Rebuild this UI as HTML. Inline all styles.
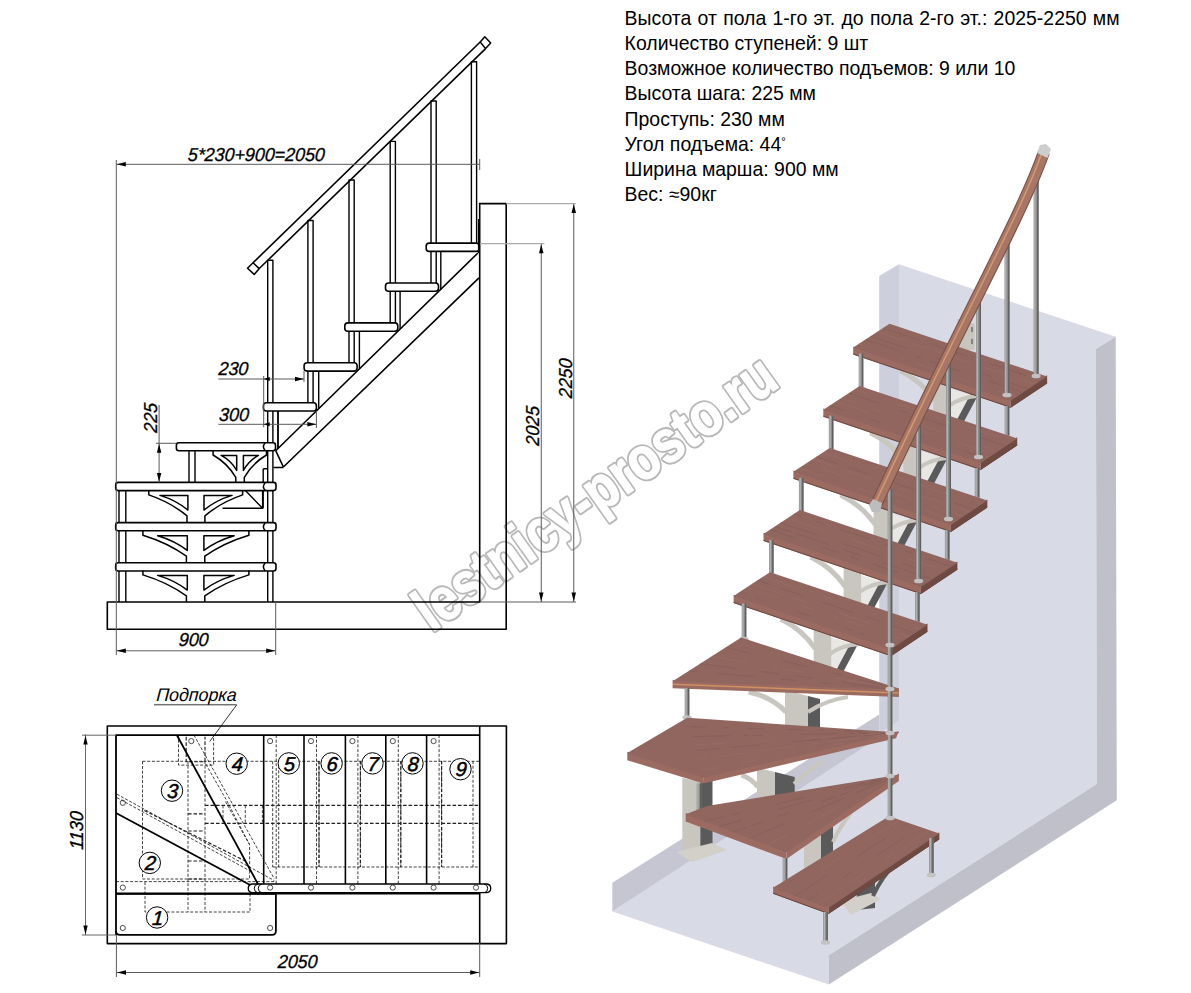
<!DOCTYPE html><html><head><meta charset="utf-8"><style>html,body{margin:0;padding:0;background:#fff;width:1191px;height:993px;overflow:hidden}svg{display:block}.it{font-family:"Liberation Sans",sans-serif;font-style:italic}.rg{font-family:"Liberation Sans",sans-serif}</style></head><body>
<svg width="1191" height="993" viewBox="0 0 1191 993">
<rect width="1191" height="993" fill="#fff"/>
<text x="624.6" y="24.8" font-size="19.45" class="rg" fill="#000" word-spacing="0.88">Высота от пола 1-го эт. до пола 2-го эт.: 2025-2250 мм</text>
<text x="624.6" y="50.0" font-size="19.45" class="rg" fill="#000">Количество ступеней: 9 шт</text>
<text x="624.6" y="75.2" font-size="19.45" class="rg" fill="#000">Возможное количество подъемов: 9 или 10</text>
<text x="624.6" y="100.4" font-size="19.45" class="rg" fill="#000">Высота шага: 225 мм</text>
<text x="624.6" y="125.6" font-size="19.45" class="rg" fill="#000">Проступь: 230 мм</text>
<text x="624.6" y="150.8" font-size="19.45" class="rg" fill="#000">Угол подъема: 44<tspan font-size="11" dy="-6">°</tspan></text>
<text x="624.6" y="176.0" font-size="19.45" class="rg" fill="#000">Ширина марша: 900 мм</text>
<text x="624.6" y="201.2" font-size="19.45" class="rg" fill="#000">Вес: ≈90кг</text>
<text font-family="Liberation Sans" font-weight="bold" font-size="60" fill="#b8b8b8" stroke="#b8b8b8" stroke-width="5" stroke-linejoin="round" transform="translate(431.8,632.8) rotate(-35.3) scale(0.845,1.005)">lestnicy-prosto.ru</text>
<text font-family="Liberation Sans" font-weight="bold" font-size="60" fill="#fff" stroke="#fff" stroke-width="1.1" stroke-linejoin="round" transform="translate(431.8,632.8) rotate(-35.3) scale(0.845,1.005)">lestnicy-prosto.ru</text>
<g stroke="none">
<polygon points="879.2,276.0 899.0,264.2 899.0,722.0 879.2,734.0" fill="#cdd0dc" stroke="none" stroke-width="0" />
<polygon points="612.4,911.6 879.2,736.0 899.0,720.0 1096.8,784.1 828.8,955.2 828.8,984.6" fill="#d8dae6" stroke="none" stroke-width="0" />
<polygon points="899.0,264.2 1115.7,336.8 1095.9,349.1 1096.8,786.0 899.0,722.0" fill="#d8dae6" stroke="none" stroke-width="0" />
<polygon points="612.4,882.7 879.2,714.6 879.2,737.0 612.4,911.6" fill="#c5c6d1" stroke="none" stroke-width="0" />
<polygon points="1095.9,349.1 1115.7,336.8 1116.8,800.2 828.8,984.6 828.8,955.2 1096.8,784.1" fill="#bfc0ca" stroke="none" stroke-width="0" />
<polygon points="950.3,388.7 969.3,394.7 963.3,418.7 950.3,418.7" fill="#e9e7e3" stroke="none" stroke-width="0" />
<polygon points="971.3,392.7 980.3,390.7 963.3,422.7 954.3,424.7" fill="#5a5a5a" stroke="none" stroke-width="0" />
<polygon points="933.3,378.7 950.8,384.7 950.8,432.7 933.3,432.7" fill="#c9c6c0" stroke="none" stroke-width="0" />
<path d="M900.3,370.7 Q921.3,380.7 935.3,400.7" fill="none" stroke="#c9c6c0" stroke-width="5" stroke-linecap="butt"/>
<path d="M949.3,405.7 Q961.3,396.7 979.3,395.7" fill="none" stroke="#c9c6c0" stroke-width="4" stroke-linecap="butt"/>
<polygon points="920.4,450.8 939.4,456.8 933.4,480.8 920.4,480.8" fill="#e9e7e3" stroke="none" stroke-width="0" />
<polygon points="941.4,454.8 950.4,452.8 933.4,484.8 924.4,486.8" fill="#5a5a5a" stroke="none" stroke-width="0" />
<polygon points="903.4,440.8 920.9,446.8 920.9,494.8 903.4,494.8" fill="#c9c6c0" stroke="none" stroke-width="0" />
<path d="M870.4,432.8 Q891.4,442.8 905.4,462.8" fill="none" stroke="#c9c6c0" stroke-width="5" stroke-linecap="butt"/>
<path d="M919.4,467.8 Q931.4,458.8 949.4,457.8" fill="none" stroke="#c9c6c0" stroke-width="4" stroke-linecap="butt"/>
<polygon points="890.5,512.9 909.5,518.9 903.5,542.9 890.5,542.9" fill="#e9e7e3" stroke="none" stroke-width="0" />
<polygon points="911.5,516.9 920.5,514.9 903.5,546.9 894.5,548.9" fill="#5a5a5a" stroke="none" stroke-width="0" />
<polygon points="873.5,502.9 891.0,508.9 891.0,556.9 873.5,556.9" fill="#c9c6c0" stroke="none" stroke-width="0" />
<path d="M840.5,494.9 Q861.5,504.9 875.5,524.9" fill="none" stroke="#c9c6c0" stroke-width="5" stroke-linecap="butt"/>
<path d="M889.5,529.9 Q901.5,520.9 919.5,519.9" fill="none" stroke="#c9c6c0" stroke-width="4" stroke-linecap="butt"/>
<polygon points="860.6,575.0 879.6,581.0 873.6,605.0 860.6,605.0" fill="#e9e7e3" stroke="none" stroke-width="0" />
<polygon points="881.6,579.0 890.6,577.0 873.6,609.0 864.6,611.0" fill="#5a5a5a" stroke="none" stroke-width="0" />
<polygon points="843.6,565.0 861.1,571.0 861.1,619.0 843.6,619.0" fill="#c9c6c0" stroke="none" stroke-width="0" />
<path d="M810.5999999999999,557.0 Q831.5999999999999,567.0 845.5999999999999,587.0" fill="none" stroke="#c9c6c0" stroke-width="5" stroke-linecap="butt"/>
<path d="M859.5999999999999,592.0 Q871.5999999999999,583.0 889.5999999999999,582.0" fill="none" stroke="#c9c6c0" stroke-width="4" stroke-linecap="butt"/>
<polygon points="830.7,637.1 849.7,643.1 843.7,667.1 830.7,667.1" fill="#e9e7e3" stroke="none" stroke-width="0" />
<polygon points="851.7,641.1 860.7,639.1 843.7,671.1 834.7,673.1" fill="#5a5a5a" stroke="none" stroke-width="0" />
<polygon points="813.7,627.1 831.2,633.1 831.2,681.1 813.7,681.1" fill="#c9c6c0" stroke="none" stroke-width="0" />
<path d="M780.6999999999999,619.1 Q801.6999999999999,629.1 815.6999999999999,649.1" fill="none" stroke="#c9c6c0" stroke-width="5" stroke-linecap="butt"/>
<path d="M829.6999999999999,654.1 Q841.6999999999999,645.1 859.6999999999999,644.1" fill="none" stroke="#c9c6c0" stroke-width="4" stroke-linecap="butt"/>
<polygon points="785.0,690.0 808.0,696.0 808.0,735.0 785.0,735.0" fill="#c9c6c0" stroke="none" stroke-width="0" />
<polygon points="808.0,696.0 820.0,699.0 820.0,735.0 808.0,735.0" fill="#5a5a5a" stroke="none" stroke-width="0" />
<path d="M748.7,692 Q772,697 786,712" fill="none" stroke="#c9c6c0" stroke-width="5" stroke-linecap="butt"/>
<path d="M808,712 Q826,700 848,697" fill="none" stroke="#c9c6c0" stroke-width="4" stroke-linecap="butt"/>
<polygon points="757.0,768.0 775.0,772.0 775.0,805.0 757.0,805.0" fill="#c9c6c0" stroke="none" stroke-width="0" />
<polygon points="775.0,772.0 794.7,777.0 794.7,805.0 775.0,805.0" fill="#5a5a5a" stroke="none" stroke-width="0" />
<path d="M741.5,775 Q752,779 758,787" fill="none" stroke="#c9c6c0" stroke-width="5" stroke-linecap="butt"/>
<path d="M794,784 Q808,770 824,761" fill="none" stroke="#c9c6c0" stroke-width="4" stroke-linecap="butt"/>
<polygon points="682.3,778.0 700.4,782.0 700.4,855.0 682.3,852.0" fill="#c9c6c0" stroke="none" stroke-width="0" />
<polygon points="700.4,782.0 712.5,780.0 712.5,851.0 700.4,855.0" fill="#5a5a5a" stroke="none" stroke-width="0" />
<polygon points="676.0,852.0 712.0,843.0 727.0,850.0 692.0,862.0" fill="#d3d0ca" stroke="none" stroke-width="0" />
<polygon points="804.0,820.0 821.0,824.0 821.0,872.0 804.0,872.0" fill="#c9c6c0" stroke="none" stroke-width="0" />
<polygon points="821.0,824.0 833.0,826.0 833.0,872.0 821.0,872.0" fill="#5a5a5a" stroke="none" stroke-width="0" />
<path d="M833,842 Q840,826 851,813" fill="none" stroke="#c9c6c0" stroke-width="4" stroke-linecap="butt"/>
<polygon points="856.7,880.0 875.0,876.0 875.0,908.0 856.7,910.0" fill="#5a5a5a" stroke="none" stroke-width="0" />
<polygon points="840.6,901.0 871.0,893.0 881.0,899.0 851.0,915.0" fill="#d3d0ca" stroke="none" stroke-width="0" />
<path d="M873,896 Q882,876 897,862" fill="none" stroke="#5a5a5a" stroke-width="4" stroke-linecap="butt"/>
</g>
<polygon points="957.4,319.0 974.7,324.0 974.7,350.0 957.4,350.0" fill="#c8c5bf" stroke="none" stroke-width="0" />
<path d="M972,327 V332 M972,339 V344" stroke="#333" stroke-width="0.9"/>
<polygon points="853.2,346.4 1010.6,399.6 1010.6,407.8 853.2,354.6" fill="#9b6b62" stroke="none" stroke-width="0" />
<polygon points="1010.6,399.6 1047.1,375.2 1047.1,383.4 1010.6,407.8" fill="#6e4a43" stroke="none" stroke-width="0" />
<polygon points="889.6,323.8 1047.1,376.4 1010.6,400.8 853.2,347.6" fill="#90665f" stroke="none" stroke-width="0" />
<path d="M858.8,344.0 L1016.2,397.1" stroke="#a0746c" stroke-width="0.9" stroke-opacity="0.45" stroke-dasharray="13,29,7,8,38,10" fill="none"/>
<path d="M865.6,339.5 L1023.0,392.5" stroke="#7c5650" stroke-width="0.9" stroke-opacity="0.45" stroke-dasharray="36,17,6,9,31,30" fill="none"/>
<path d="M870.6,336.2 L1028.1,389.1" stroke="#7c5650" stroke-width="0.9" stroke-opacity="0.45" stroke-dasharray="39,31,7,40,11,18" fill="none"/>
<path d="M877.7,331.6 L1035.2,384.4" stroke="#a0746c" stroke-width="0.9" stroke-opacity="0.45" stroke-dasharray="29,7,18,6,39,12" fill="none"/>
<path d="M883.3,327.9 L1040.8,380.6" stroke="#7c5650" stroke-width="0.9" stroke-opacity="0.45" stroke-dasharray="38,11,40,23,39,15" fill="none"/>
<path d="M853.2,354.1 L1010.6,407.3 L1047.1,382.9" fill="none" stroke="#6d4740" stroke-width="1"/>
<rect x="858.7" y="353.6" width="4.6" height="36.0" fill="#8c8c8c"/>
<rect x="859.3" y="353.6" width="1.3" height="36.0" fill="#b5b5b5"/>
<rect x="861.9" y="353.6" width="1.4" height="36.0" fill="#5f5f5f"/>
<ellipse cx="861.0" cy="389.1" rx="4.6" ry="2.3" fill="#c2c2c2"/>
<rect x="1004.7" y="406.0" width="4.6" height="32.0" fill="#8c8c8c"/>
<rect x="1005.3" y="406.0" width="1.3" height="32.0" fill="#b5b5b5"/>
<rect x="1007.9" y="406.0" width="1.4" height="32.0" fill="#5f5f5f"/>
<ellipse cx="1007.0" cy="437.5" rx="4.6" ry="2.3" fill="#c2c2c2"/>
<polygon points="823.3,408.5 980.7,461.7 980.7,469.9 823.3,416.7" fill="#9b6b62" stroke="none" stroke-width="0" />
<polygon points="980.7,461.7 1017.2,437.3 1017.2,445.5 980.7,469.9" fill="#6e4a43" stroke="none" stroke-width="0" />
<polygon points="859.7,385.9 1017.2,438.5 980.7,462.9 823.3,409.7" fill="#90665f" stroke="none" stroke-width="0" />
<path d="M829.6,405.6 L987.0,458.7" stroke="#7c5650" stroke-width="0.9" stroke-opacity="0.45" stroke-dasharray="16,27,10,39,8,40" fill="none"/>
<path d="M835.8,401.5 L993.2,454.5" stroke="#a0746c" stroke-width="0.9" stroke-opacity="0.45" stroke-dasharray="35,38,31,24,33,33" fill="none"/>
<path d="M840.9,398.2 L998.4,451.1" stroke="#a0746c" stroke-width="0.9" stroke-opacity="0.45" stroke-dasharray="15,19,9,40,23,37" fill="none"/>
<path d="M848.7,393.1 L1006.1,445.9" stroke="#7c5650" stroke-width="0.9" stroke-opacity="0.45" stroke-dasharray="32,22,8,11,36,30" fill="none"/>
<path d="M854.4,389.4 L1011.9,442.1" stroke="#a0746c" stroke-width="0.9" stroke-opacity="0.45" stroke-dasharray="13,35,30,6,8,39" fill="none"/>
<path d="M823.3,416.2 L980.7,469.4 L1017.2,445.0" fill="none" stroke="#6d4740" stroke-width="1"/>
<rect x="828.8" y="415.7" width="4.6" height="36.0" fill="#8c8c8c"/>
<rect x="829.4" y="415.7" width="1.3" height="36.0" fill="#b5b5b5"/>
<rect x="832.0" y="415.7" width="1.4" height="36.0" fill="#5f5f5f"/>
<ellipse cx="831.1" cy="451.2" rx="4.6" ry="2.3" fill="#c2c2c2"/>
<rect x="974.8" y="468.1" width="4.6" height="32.0" fill="#8c8c8c"/>
<rect x="975.4" y="468.1" width="1.3" height="32.0" fill="#b5b5b5"/>
<rect x="978.0" y="468.1" width="1.4" height="32.0" fill="#5f5f5f"/>
<ellipse cx="977.1" cy="499.6" rx="4.6" ry="2.3" fill="#c2c2c2"/>
<polygon points="793.4,470.6 950.8,523.8 950.8,532.0 793.4,478.8" fill="#9b6b62" stroke="none" stroke-width="0" />
<polygon points="950.8,523.8 987.3,499.4 987.3,507.6 950.8,532.0" fill="#6e4a43" stroke="none" stroke-width="0" />
<polygon points="829.8,448.0 987.3,500.6 950.8,525.0 793.4,471.8" fill="#90665f" stroke="none" stroke-width="0" />
<path d="M799.0,468.1 L956.4,521.2" stroke="#a0746c" stroke-width="0.9" stroke-opacity="0.45" stroke-dasharray="26,35,33,8,9,21" fill="none"/>
<path d="M806.1,463.5 L963.5,516.5" stroke="#a0746c" stroke-width="0.9" stroke-opacity="0.45" stroke-dasharray="8,7,23,40,32,22" fill="none"/>
<path d="M812.7,459.2 L970.2,512.0" stroke="#a0746c" stroke-width="0.9" stroke-opacity="0.45" stroke-dasharray="26,5,33,26,14,11" fill="none"/>
<path d="M816.4,456.8 L973.8,509.6" stroke="#7c5650" stroke-width="0.9" stroke-opacity="0.45" stroke-dasharray="22,12,19,29,29,35" fill="none"/>
<path d="M822.8,452.6 L980.2,505.3" stroke="#a0746c" stroke-width="0.9" stroke-opacity="0.45" stroke-dasharray="29,39,21,12,31,39" fill="none"/>
<path d="M793.4,478.3 L950.8,531.5 L987.3,507.1" fill="none" stroke="#6d4740" stroke-width="1"/>
<rect x="798.9" y="477.8" width="4.6" height="36.0" fill="#8c8c8c"/>
<rect x="799.5" y="477.8" width="1.3" height="36.0" fill="#b5b5b5"/>
<rect x="802.1" y="477.8" width="1.4" height="36.0" fill="#5f5f5f"/>
<ellipse cx="801.2" cy="513.3" rx="4.6" ry="2.3" fill="#c2c2c2"/>
<rect x="944.9" y="530.2" width="4.6" height="32.0" fill="#8c8c8c"/>
<rect x="945.5" y="530.2" width="1.3" height="32.0" fill="#b5b5b5"/>
<rect x="948.1" y="530.2" width="1.4" height="32.0" fill="#5f5f5f"/>
<ellipse cx="947.2" cy="561.7" rx="4.6" ry="2.3" fill="#c2c2c2"/>
<polygon points="763.5,532.7 920.9,585.9 920.9,594.1 763.5,540.9" fill="#9b6b62" stroke="none" stroke-width="0" />
<polygon points="920.9,585.9 957.4,561.5 957.4,569.7 920.9,594.1" fill="#6e4a43" stroke="none" stroke-width="0" />
<polygon points="799.9,510.1 957.4,562.7 920.9,587.1 763.5,533.9" fill="#90665f" stroke="none" stroke-width="0" />
<path d="M770.2,529.5 L927.6,582.6" stroke="#7c5650" stroke-width="0.9" stroke-opacity="0.45" stroke-dasharray="26,28,18,13,9,15" fill="none"/>
<path d="M774.9,526.5 L932.3,579.5" stroke="#7c5650" stroke-width="0.9" stroke-opacity="0.45" stroke-dasharray="18,4,35,15,20,22" fill="none"/>
<path d="M780.7,522.7 L938.1,575.6" stroke="#7c5650" stroke-width="0.9" stroke-opacity="0.45" stroke-dasharray="38,27,40,24,12,36" fill="none"/>
<path d="M787.6,518.1 L945.1,570.9" stroke="#a0746c" stroke-width="0.9" stroke-opacity="0.45" stroke-dasharray="39,29,29,29,29,10" fill="none"/>
<path d="M794.2,513.8 L951.7,566.5" stroke="#7c5650" stroke-width="0.9" stroke-opacity="0.45" stroke-dasharray="7,16,8,17,32,14" fill="none"/>
<path d="M763.5,540.4 L920.9,593.6 L957.4,569.2" fill="none" stroke="#6d4740" stroke-width="1"/>
<rect x="769.0" y="539.9" width="4.6" height="36.0" fill="#8c8c8c"/>
<rect x="769.6" y="539.9" width="1.3" height="36.0" fill="#b5b5b5"/>
<rect x="772.2" y="539.9" width="1.4" height="36.0" fill="#5f5f5f"/>
<ellipse cx="771.3" cy="575.4" rx="4.6" ry="2.3" fill="#c2c2c2"/>
<rect x="915.0" y="592.3" width="4.6" height="32.0" fill="#8c8c8c"/>
<rect x="915.6" y="592.3" width="1.3" height="32.0" fill="#b5b5b5"/>
<rect x="918.2" y="592.3" width="1.4" height="32.0" fill="#5f5f5f"/>
<ellipse cx="917.3" cy="623.8" rx="4.6" ry="2.3" fill="#c2c2c2"/>
<polygon points="733.6,594.8 891.0,648.0 891.0,656.2 733.6,603.0" fill="#9b6b62" stroke="none" stroke-width="0" />
<polygon points="891.0,648.0 927.5,623.6 927.5,631.8 891.0,656.2" fill="#6e4a43" stroke="none" stroke-width="0" />
<polygon points="770.0,572.2 927.5,624.8 891.0,649.2 733.6,596.0" fill="#90665f" stroke="none" stroke-width="0" />
<path d="M739.2,592.3 L896.6,645.4" stroke="#7c5650" stroke-width="0.9" stroke-opacity="0.45" stroke-dasharray="7,10,4,40,13,38" fill="none"/>
<path d="M747.0,587.2 L904.5,640.2" stroke="#a0746c" stroke-width="0.9" stroke-opacity="0.45" stroke-dasharray="5,8,17,28,13,20" fill="none"/>
<path d="M752.1,583.9 L909.5,636.8" stroke="#a0746c" stroke-width="0.9" stroke-opacity="0.45" stroke-dasharray="34,11,11,35,33,34" fill="none"/>
<path d="M757.3,580.5 L914.8,633.3" stroke="#7c5650" stroke-width="0.9" stroke-opacity="0.45" stroke-dasharray="13,10,25,20,34,14" fill="none"/>
<path d="M763.1,576.7 L920.6,629.4" stroke="#a0746c" stroke-width="0.9" stroke-opacity="0.45" stroke-dasharray="37,27,13,38,5,37" fill="none"/>
<path d="M733.6,602.5 L891.0,655.7 L927.5,631.3" fill="none" stroke="#6d4740" stroke-width="1"/>
<rect x="741.7" y="603.5" width="4.6" height="36.5" fill="#8c8c8c"/>
<rect x="742.3" y="603.5" width="1.3" height="36.5" fill="#b5b5b5"/>
<rect x="744.9" y="603.5" width="1.4" height="36.5" fill="#5f5f5f"/>
<ellipse cx="744.0" cy="639.0" rx="4.6" ry="2.3" fill="#c2c2c2"/>
<polygon points="672.6,680.0 898.9,688.8 898.9,697.0 672.6,688.3" fill="#9b6b62" stroke="none" stroke-width="0" />
<polygon points="741.2,637.5 898.9,688.6 898.9,690.1 672.6,681.3" fill="#90665f" stroke="none" stroke-width="0" />
<path d="M688.9,670.9 L898.9,689.7" stroke="#7c5650" stroke-width="0.9" stroke-opacity="0.45" stroke-dasharray="9,20,37,27,14,26" fill="none"/>
<path d="M700.2,663.7 L898.9,689.4" stroke="#7c5650" stroke-width="0.9" stroke-opacity="0.45" stroke-dasharray="36,25,18,16,19,29" fill="none"/>
<path d="M712.1,656.1 L898.9,689.2" stroke="#a0746c" stroke-width="0.9" stroke-opacity="0.45" stroke-dasharray="35,26,5,5,21,34" fill="none"/>
<path d="M725.8,647.3 L898.9,688.9" stroke="#7c5650" stroke-width="0.9" stroke-opacity="0.45" stroke-dasharray="26,32,26,27,9,18" fill="none"/>
<path d="M673,684.3 L898,693" stroke="#d09062" stroke-width="1.4" fill="none"/>
<rect x="684.7" y="688.0" width="4.6" height="30.0" fill="#8c8c8c"/>
<rect x="685.3" y="688.0" width="1.3" height="30.0" fill="#b5b5b5"/>
<rect x="687.9" y="688.0" width="1.4" height="30.0" fill="#5f5f5f"/>
<ellipse cx="687.0" cy="717.5" rx="4.6" ry="2.3" fill="#c2c2c2"/>
<polygon points="627.3,751.7 703.2,776.5 703.2,783.5 627.3,760.2" fill="#9b6b62" stroke="none" stroke-width="0" />
<polygon points="703.2,776.5 898.9,731.2 896.0,738.3 703.2,783.5" fill="#9b6b62" stroke="none" stroke-width="0" />
<polygon points="687.2,717.8 898.9,732.4 703.2,777.7 627.3,752.9" fill="#90665f" stroke="none" stroke-width="0" />
<path d="M701.3,770.5 L898.9,732.4" stroke="#a0746c" stroke-width="0.9" stroke-opacity="0.45" stroke-dasharray="16,25,17,34,4,34" fill="none"/>
<path d="M698.2,759.1 L898.9,732.4" stroke="#a0746c" stroke-width="0.9" stroke-opacity="0.45" stroke-dasharray="9,11,28,16,34,15" fill="none"/>
<path d="M696.0,750.6 L898.9,732.4" stroke="#7c5650" stroke-width="0.9" stroke-opacity="0.45" stroke-dasharray="25,9,29,33,29,9" fill="none"/>
<path d="M694.5,745.1 L898.9,732.4" stroke="#a0746c" stroke-width="0.9" stroke-opacity="0.45" stroke-dasharray="12,5,13,33,13,34" fill="none"/>
<path d="M692.2,736.6 L898.9,732.4" stroke="#7c5650" stroke-width="0.9" stroke-opacity="0.45" stroke-dasharray="39,12,5,4,10,37" fill="none"/>
<path d="M689.6,726.7 L898.9,732.4" stroke="#7c5650" stroke-width="0.9" stroke-opacity="0.45" stroke-dasharray="16,17,5,20,17,22" fill="none"/>
<rect x="696.7" y="783.5" width="4.6" height="30.5" fill="#8c8c8c"/>
<rect x="697.3" y="783.5" width="1.3" height="30.5" fill="#b5b5b5"/>
<rect x="699.9" y="783.5" width="1.4" height="30.5" fill="#5f5f5f"/>
<ellipse cx="699.0" cy="813.5" rx="4.6" ry="2.3" fill="#c2c2c2"/>
<polygon points="685.7,813.0 786.5,851.0 786.5,859.0 685.7,821.5" fill="#9b6b62" stroke="none" stroke-width="0" />
<polygon points="786.5,851.0 898.9,773.6 898.9,781.0 786.5,859.0" fill="#9b6b62" stroke="none" stroke-width="0" />
<polygon points="707.0,806.0 898.9,774.8 786.5,852.2 685.7,814.2" fill="#90665f" stroke="none" stroke-width="0" />
<path d="M767.6,845.1 L898.9,774.8" stroke="#a0746c" stroke-width="0.9" stroke-opacity="0.45" stroke-dasharray="24,20,38,30,12,7" fill="none"/>
<path d="M749.7,838.3 L898.9,774.8" stroke="#7c5650" stroke-width="0.9" stroke-opacity="0.45" stroke-dasharray="37,30,36,12,38,13" fill="none"/>
<path d="M733.1,832.1 L898.9,774.8" stroke="#7c5650" stroke-width="0.9" stroke-opacity="0.45" stroke-dasharray="15,4,13,15,13,34" fill="none"/>
<path d="M718.8,826.7 L898.9,774.8" stroke="#7c5650" stroke-width="0.9" stroke-opacity="0.45" stroke-dasharray="24,37,37,39,34,10" fill="none"/>
<path d="M704.5,821.3 L898.9,774.8" stroke="#7c5650" stroke-width="0.9" stroke-opacity="0.45" stroke-dasharray="21,6,10,36,32,39" fill="none"/>
<rect x="782.7" y="858.0" width="4.6" height="28.0" fill="#8c8c8c"/>
<rect x="783.3" y="858.0" width="1.3" height="28.0" fill="#b5b5b5"/>
<rect x="785.9" y="858.0" width="1.4" height="28.0" fill="#5f5f5f"/>
<ellipse cx="785.0" cy="885.5" rx="4.6" ry="2.3" fill="#c2c2c2"/>
<polygon points="773.1,886.6 828.5,906.8 828.5,914.0 773.1,893.8" fill="#9b6b62" stroke="none" stroke-width="0" />
<polygon points="828.5,906.8 939.3,832.2 939.3,839.4 828.5,914.0" fill="#6e4a43" stroke="none" stroke-width="0" />
<polygon points="889.0,816.3 939.3,833.4 828.5,908.0 773.1,887.8" fill="#90665f" stroke="none" stroke-width="0" />
<path d="M773.1,893.3 L828.5,913.5 L939.3,838.9" fill="none" stroke="#6d4740" stroke-width="1"/>
<path d="M785.3,892.3 L900.1,820.1" stroke="#a0746c" stroke-width="0.9" stroke-opacity="0.45" stroke-dasharray="8,32,24,36,36,16" fill="none"/>
<path d="M795.0,895.8 L908.9,823.1" stroke="#7c5650" stroke-width="0.9" stroke-opacity="0.45" stroke-dasharray="38,34,36,19,37,20" fill="none"/>
<path d="M807.8,900.5 L920.5,827.0" stroke="#7c5650" stroke-width="0.9" stroke-opacity="0.45" stroke-dasharray="12,30,11,29,32,24" fill="none"/>
<path d="M818.2,904.2 L929.9,830.2" stroke="#a0746c" stroke-width="0.9" stroke-opacity="0.45" stroke-dasharray="31,8,17,23,11,13" fill="none"/>
<rect x="823.2" y="912.0" width="4.6" height="31.0" fill="#8c8c8c"/>
<rect x="823.8" y="912.0" width="1.3" height="31.0" fill="#b5b5b5"/>
<rect x="826.4" y="912.0" width="1.4" height="31.0" fill="#5f5f5f"/>
<ellipse cx="825.5" cy="942.5" rx="4.6" ry="2.3" fill="#c2c2c2"/>
<rect x="929.0" y="838.0" width="4.6" height="37.7" fill="#8c8c8c"/>
<rect x="929.6" y="838.0" width="1.3" height="37.7" fill="#b5b5b5"/>
<rect x="932.2" y="838.0" width="1.4" height="37.7" fill="#5f5f5f"/>
<ellipse cx="931.3" cy="875.0" rx="4.6" ry="2.3" fill="#c2c2c2"/>
<rect x="887.7" y="489.0" width="4.6" height="329.0" fill="#8c8c8c"/>
<rect x="888.3" y="489.0" width="1.3" height="329.0" fill="#b5b5b5"/>
<rect x="890.9" y="489.0" width="1.4" height="329.0" fill="#5f5f5f"/>
<ellipse cx="890.0" cy="645.0" rx="4.6" ry="2.3" fill="#c2c2c2"/>
<ellipse cx="890.0" cy="689.0" rx="4.6" ry="2.3" fill="#c2c2c2"/>
<ellipse cx="890.0" cy="733.0" rx="4.6" ry="2.3" fill="#c2c2c2"/>
<ellipse cx="890.0" cy="776.0" rx="4.6" ry="2.3" fill="#c2c2c2"/>
<ellipse cx="890.0" cy="818.0" rx="4.6" ry="2.3" fill="#c2c2c2"/>
<rect x="1033.6" y="170.0" width="5" height="206.0" fill="#8c8c8c"/>
<rect x="1034.2" y="170.0" width="1.3" height="206.0" fill="#b5b5b5"/>
<rect x="1037.2" y="170.0" width="1.4" height="206.0" fill="#5f5f5f"/>
<ellipse cx="1036.1" cy="376.0" rx="4.6" ry="2.3" fill="#c2c2c2"/>
<rect x="1004.5" y="230.0" width="5" height="165.0" fill="#8c8c8c"/>
<rect x="1005.1" y="230.0" width="1.3" height="165.0" fill="#b5b5b5"/>
<rect x="1008.1" y="230.0" width="1.4" height="165.0" fill="#5f5f5f"/>
<ellipse cx="1007.0" cy="395.0" rx="4.6" ry="2.3" fill="#c2c2c2"/>
<rect x="976.0" y="292.0" width="5" height="165.0" fill="#8c8c8c"/>
<rect x="976.6" y="292.0" width="1.3" height="165.0" fill="#b5b5b5"/>
<rect x="979.6" y="292.0" width="1.4" height="165.0" fill="#5f5f5f"/>
<ellipse cx="978.5" cy="457.0" rx="4.6" ry="2.3" fill="#c2c2c2"/>
<rect x="946.0" y="355.0" width="5" height="164.0" fill="#8c8c8c"/>
<rect x="946.6" y="355.0" width="1.3" height="164.0" fill="#b5b5b5"/>
<rect x="949.6" y="355.0" width="1.4" height="164.0" fill="#5f5f5f"/>
<ellipse cx="948.5" cy="519.0" rx="4.6" ry="2.3" fill="#c2c2c2"/>
<rect x="916.1" y="418.0" width="5" height="163.0" fill="#8c8c8c"/>
<rect x="916.7" y="418.0" width="1.3" height="163.0" fill="#b5b5b5"/>
<rect x="919.7" y="418.0" width="1.4" height="163.0" fill="#5f5f5f"/>
<ellipse cx="918.6" cy="581.0" rx="4.6" ry="2.3" fill="#c2c2c2"/>
<path d="M1044,152 C1020,220 957,330 877,503" fill="none" stroke="#7a5245" stroke-width="12"/>
<path d="M1044,152 C1020,220 957,330 877,503" fill="none" stroke="#a87666" stroke-width="9.8"/>
<path d="M1041.8,153 C1017.8,221 954.8,331 874.8,504" fill="none" stroke="#d39a6c" stroke-width="1.5"/>
<polygon points="1037.0,153.0 1040.0,145.0 1046.0,144.0 1051.0,149.0 1047.5,158.0" fill="#cdcdcd" stroke="none" stroke-width="0" />
<polygon points="869.0,505.0 873.0,499.0 882.0,503.0 880.0,512.0 872.0,512.0" fill="#bdbdbd" stroke="none" stroke-width="0" />
<g fill="none" stroke="#000" stroke-linejoin="round">
<path d="M107.3,602 H479.7 V203.6 H506.2 V629.3 H107.3 Z" stroke-width="1.6"/>
<path d="M253,262.8 L480.2,42 M259,268.8 L485.6,48.6" stroke-width="1.6"/>
<polygon points="247.5,268.2 253.0,262.8 259.3,268.6 254.2,274.4" fill="#fff" stroke="#000" stroke-width="1.5" />
<polygon points="480.2,42.0 484.8,36.8 490.7,43.1 485.6,48.6" fill="#fff" stroke="#000" stroke-width="1.5" />
<path d="M267.7,602 V260.3 H272.9 V602" stroke-width="1.4"/>
<path d="M307.9,402.7 V220.5 H313.1 V402.7" stroke-width="1.4"/>
<path d="M349.0,363.4 V180.0 H354.2 V363.4" stroke-width="1.4"/>
<path d="M390.2,323.1 V141.4 H395.4 V323.1" stroke-width="1.4"/>
<path d="M431.0,283.4 V101.0 H436.2 V283.4" stroke-width="1.4"/>
<path d="M471.4,243.2 V61.7 H476.6 V243.2" stroke-width="1.4"/>
<rect x="263.4" y="402.7" width="53.0" height="8.3" rx="3" fill="#fff" stroke="#000" stroke-width="1.6" />
<line x1="278.0" y1="411.0" x2="278.0" y2="448.5" stroke="#000" stroke-width="1.4" />
<rect x="304.1" y="362.8" width="53.0" height="8.3" rx="3" fill="#fff" stroke="#000" stroke-width="1.6" />
<line x1="318.7" y1="371.1" x2="318.7" y2="408.6" stroke="#000" stroke-width="1.4" />
<rect x="344.8" y="322.9" width="53.0" height="8.3" rx="3" fill="#fff" stroke="#000" stroke-width="1.6" />
<line x1="359.4" y1="331.2" x2="359.4" y2="368.8" stroke="#000" stroke-width="1.4" />
<rect x="385.5" y="283.0" width="53.0" height="8.3" rx="3" fill="#fff" stroke="#000" stroke-width="1.6" />
<line x1="400.1" y1="291.3" x2="400.1" y2="329.0" stroke="#000" stroke-width="1.4" />
<rect x="426.2" y="243.1" width="53.0" height="8.3" rx="3" fill="#fff" stroke="#000" stroke-width="1.6" />
<line x1="440.8" y1="251.4" x2="440.8" y2="289.2" stroke="#000" stroke-width="1.4" />
<path d="M275.7,450.7 L477.9,253 M283.4,467 L479.0,277.9 M275.7,450.7 L283.4,467 M273.5,467.5 H283.4" stroke-width="1.6"/>
<path d="M119,490.5 V602 M125.8,490.5 V602" stroke-width="1.4"/>
<rect x="115.7" y="482.4" width="160.3" height="8.2" rx="2.5" fill="#fff" stroke="#000" stroke-width="1.6" />
<rect x="115.7" y="522.6" width="160.3" height="8.2" rx="2.5" fill="#fff" stroke="#000" stroke-width="1.6" />
<rect x="115.7" y="562.8" width="160.3" height="8.2" rx="2.5" fill="#fff" stroke="#000" stroke-width="1.6" />
<rect x="176.4" y="442.8" width="99.1" height="8.0" rx="2.5" fill="#fff" stroke="#000" stroke-width="1.6" />
<path d="M189,450.8 V482.4 M195,450.8 V482.4" stroke-width="1.4"/>
<path d="M278,411 V449" stroke-width="1.4"/>
<path d="M265.2,443.1 Q261.6,446.8 265.2,450.5" stroke-width="1.4"/>
<path d="M265.2,482.7 Q261.6,486.5 265.2,490.3" stroke-width="1.4"/>
<path d="M265.2,522.9 Q261.6,526.7 265.2,530.5" stroke-width="1.4"/>
<path d="M265.2,563.0999999999999 Q261.6,566.9 265.2,570.7" stroke-width="1.4"/>
<path d="M148.8,490.5 V494.9 Q170.9,502.4 187,515.9 V522.6 M204.9,522.6 V515.9 Q220.75,502.4 242.6,494.9 V490.5" stroke-width="1.5"/>
<path d="M160,495.4 H187.9 V510.1 Q176.0,500.25 160,495.4 Z" stroke-width="1.5"/>
<path d="M232,495.4 H204.0 V510.1 Q215.95,500.25 232,495.4 Z" stroke-width="1.5"/>
<path d="M142.9,530.8 V535.1999999999999 Q167.65,542.6999999999999 186.4,556.1999999999999 V562.8 M204.8,562.8 V556.1999999999999 Q223.85000000000002,542.6999999999999 248.9,535.1999999999999 V530.8" stroke-width="1.5"/>
<path d="M157.6,535.6999999999999 H187.3 V550.4 Q174.5,540.55 157.6,535.6999999999999 Z" stroke-width="1.5"/>
<path d="M234.2,535.6999999999999 H203.9 V550.4 Q217.0,540.55 234.2,535.6999999999999 Z" stroke-width="1.5"/>
<path d="M142.9,570.5 V574.9 Q167.65,582.4 186.4,595.9 V602 M204.8,602 V595.9 Q223.85000000000002,582.4 248.9,574.9 V570.5" stroke-width="1.5"/>
<path d="M157.6,575.4 H187.3 V590.1 Q174.5,580.25 157.6,575.4 Z" stroke-width="1.5"/>
<path d="M234.2,575.4 H203.9 V590.1 Q217.0,580.25 234.2,575.4 Z" stroke-width="1.5"/>
<path d="M213.1,450.8 V455.0 Q227.45,463.2 235.8,477.40000000000003 V482.4 M244.3,482.4 V477.40000000000003 Q252.4,463.2 266.5,455.0 V450.8" stroke-width="1.5"/>
<path d="M221.1,455.40000000000003 H236.70000000000002 V470.40000000000003 Q230.95,460.40000000000003 221.1,455.40000000000003 Z" stroke-width="1.5"/>
<path d="M258.4,455.40000000000003 H243.4 V470.40000000000003 Q248.85,460.40000000000003 258.4,455.40000000000003 Z" stroke-width="1.5"/>
<path d="M222.5,508.3 H262.6 V490.5 M245.4,490.5 L262.6,508.3 M263.2,468.7 V482.4 M263.2,490.5 V508.3 M263.2,468.7 H267.4 M478.6,219 V253" stroke-width="1.4"/>
</g>
<g fill="none" stroke="#5a5a5a" stroke-width="1">
<path d="M116.3,160 V655 M116.3,164.3 H479.7 M479.7,159 V170"/>
<path d="M275.7,602 V655 M116.3,650.8 H275.7"/>
<path d="M159.1,405 V482.4 M156,443.3 H176.4"/>
<path d="M218.4,379 H304 M263.7,376 V427.3 M304,371 V382"/>
<path d="M218.4,424.3 H316.4 M316.4,411 V428"/>
<path d="M541.25,243.7 V602" stroke="#5a5a5a"/><path d="M480,243.7 H544.4" stroke="#aaa" stroke-width="1.3"/>
<path d="M573.75,203.6 V602" stroke="#5a5a5a"/><path d="M506.2,203.6 H575.8" stroke="#aaa" stroke-width="1.3"/>
<path d="M479.4,602 H576"/>
</g>
<polygon points="116.8,164.3 125.8,162.1 125.8,166.5" fill="#000" stroke="none" stroke-width="0" />
<polygon points="116.8,650.8 125.8,648.6 125.8,653.0" fill="#000" stroke="none" stroke-width="0" />
<polygon points="275.2,650.8 266.2,653.0 266.2,648.6" fill="#000" stroke="none" stroke-width="0" />
<polygon points="159.1,443.8 161.3,452.8 156.9,452.8" fill="#000" stroke="none" stroke-width="0" />
<polygon points="159.1,482.0 156.9,473.0 161.3,473.0" fill="#000" stroke="none" stroke-width="0" />
<polygon points="304.0,379.0 295.0,381.2 295.0,376.8" fill="#000" stroke="none" stroke-width="0" />
<polygon points="263.7,379.0 269.7,377.0 269.7,381.0" fill="#000" stroke="none" stroke-width="0" />
<polygon points="316.4,424.3 307.4,426.5 307.4,422.1" fill="#000" stroke="none" stroke-width="0" />
<polygon points="263.7,424.3 269.7,422.3 269.7,426.3" fill="#000" stroke="none" stroke-width="0" />
<polygon points="541.2,244.2 543.5,253.2 539.0,253.2" fill="#000" stroke="none" stroke-width="0" />
<polygon points="541.2,601.5 539.0,592.5 543.5,592.5" fill="#000" stroke="none" stroke-width="0" />
<polygon points="573.8,204.1 576.0,213.1 571.5,213.1" fill="#000" stroke="none" stroke-width="0" />
<polygon points="573.8,601.5 571.5,592.5 576.0,592.5" fill="#000" stroke="none" stroke-width="0" />
<text transform="translate(187.5,161.0) skewX(-4) scale(0.955,1)" font-size="18.7" class="it" text-anchor="start" fill="#000" stroke="#000" stroke-width="0.3">5*230+900=2050</text>
<text transform="translate(218.2,375.2) skewX(-4) scale(0.955,1)" font-size="18.7" class="it" text-anchor="start" fill="#000" stroke="#000" stroke-width="0.3">230</text>
<text transform="translate(218.8,421.0) skewX(-4) scale(0.955,1)" font-size="18.7" class="it" text-anchor="start" fill="#000" stroke="#000" stroke-width="0.3">300</text>
<text transform="translate(178.5,646.4) skewX(-4) scale(0.955,1)" font-size="18.7" class="it" text-anchor="start" fill="#000" stroke="#000" stroke-width="0.3">900</text>
<text transform="translate(156.5,433.0) rotate(-90) skewX(-4) scale(0.955,1)" font-size="18.7" class="it" text-anchor="start" fill="#000" stroke="#000" stroke-width="0.3">225</text>
<text transform="translate(538.9,446.0) rotate(-90) skewX(-4) scale(0.955,1)" font-size="18.7" class="it" text-anchor="start" fill="#000" stroke="#000" stroke-width="0.3">2025</text>
<text transform="translate(571.7,398.5) rotate(-90) skewX(-4) scale(0.955,1)" font-size="18.7" class="it" text-anchor="start" fill="#000" stroke="#000" stroke-width="0.3">2250</text>
<g fill="none" stroke="#000" stroke-linejoin="round">
<rect x="107.3" y="726" width="399.1" height="217.6" stroke-width="1.6"/>
<path d="M479.7,726 V943.6" stroke-width="1.6"/>
<g stroke-width="0.8" stroke-dasharray="3,1.7" stroke="#111">
<path d="M178.5,735 V765.1 H213.6 V735"/>
<path d="M142.5,761.3 H479 M142.5,761.3 V879 H249.6 V844.7 L224.7,800.2 M272.7,761.3 V867 M116,881.6 H274.4 M272.7,867 H479"/>
<path d="M188,761 V912 M205,761 V912 M145,882 V912 H250 V882"/>
<path d="M116.9,794.2 L274.4,880.7 M116.9,797.6 L252,872 M193.9,735 L274.4,879 M205.9,764.3 L226.5,800.2 L249.6,844.7"/>
<path d="M276.2,735 V884 M278.7,761 V867"/>
<path d="M316.5,735 V884 M319,761 V867"/>
<path d="M357.9,735 V884 M360.4,761 V867"/>
<path d="M398.3,735 V884 M400.8,761 V867"/>
<path d="M439.1,735 V884 M441.6,761 V867"/>
<path d="M473,761 V867 M223,805.4 V823.3 M245.3,805.4 V823.3 M262.4,805.4 V823.3"/>
</g>
<g stroke-width="1.15" stroke-dasharray="3.6,1.9" stroke="#222">
<path d="M205,805.4 H479 M205,823.3 H479 M186.2,736.8 V761.7 H205 V736.8 M188,813.9 H205 M188,831 H205 M188,861 H205 M188,879 H205 M144.3,810.5 L247,861.9"/>
<path d="M319,761 V867"/>
<path d="M360.4,761 V867"/>
<path d="M400.8,761 V867"/>
<path d="M441.6,761 V867"/>
</g>
<path d="M116,935 V735.2 H479.7" stroke-width="1.8"/>
<path d="M116,893.8 H275.9 V931 Q275.9,934.9 272,934.9 H120 Q116,934.9 116,931" stroke-width="1.8"/>
<path d="M263.7,735.2 V892" stroke-width="1.6"/>
<path d="M304,735.2 V892" stroke-width="1.6"/>
<path d="M345.4,735.2 V892" stroke-width="1.6"/>
<path d="M385.8,735.2 V892" stroke-width="1.6"/>
<path d="M426.6,735.2 V892" stroke-width="1.6"/>
<path d="M116,813 L252,886 M176.8,735 L259,886" stroke-width="1.8"/>
<path d="M252,884 H487 A4.4,4.4 0 0 1 487,892.7 H252 A4.4,4.4 0 0 1 252,884 Z" fill="#fff" stroke-width="1.3"/>
<path d="M116,893.5 H479.7" stroke-width="1.8"/>
<path d="M258,884 A4.4,4.4 0 0 0 258,892.7 M484,884 A4.4,4.4 0 0 1 484,892.7 M262,884 A4.4,4.4 0 0 0 262,892.7" stroke-width="1"/>
<g stroke-width="0.8" stroke="#222" fill="none">
<circle cx="122.8" cy="887.6" r="2.6"/>
<circle cx="122.8" cy="802.8" r="2.6"/>
<circle cx="270.1" cy="741.1" r="2.6"/>
<circle cx="191.3" cy="741.1" r="2.6"/>
<circle cx="270.1" cy="887.6" r="2.6"/>
<circle cx="122.8" cy="928" r="2.6"/>
<circle cx="270.1" cy="928" r="2.6"/>
<circle cx="311" cy="741.1" r="2.6"/>
<circle cx="352.4" cy="741.1" r="2.6"/>
<circle cx="392.8" cy="741.1" r="2.6"/>
<circle cx="433.6" cy="741.1" r="2.6"/>
<circle cx="311" cy="887.6" r="2.6"/>
<circle cx="352.4" cy="887.6" r="2.6"/>
<circle cx="392.8" cy="887.6" r="2.6"/>
<circle cx="433.6" cy="887.6" r="2.6"/>
<circle cx="476" cy="887.6" r="2.6"/>
</g>
<circle cx="157.1" cy="917.5" r="10.7" fill="#fff" stroke-width="1"/>
<text class="it" transform="translate(157.4,924.6) skewX(-4)" text-anchor="middle" font-size="20" fill="#000" stroke="#000" stroke-width="0.5">1</text>
<circle cx="149.8" cy="862.9" r="10.7" fill="#fff" stroke-width="1"/>
<text class="it" transform="translate(150.1,870.0) skewX(-4)" text-anchor="middle" font-size="20" fill="#000" stroke="#000" stroke-width="0.5">2</text>
<circle cx="172" cy="790.7" r="10.7" fill="#fff" stroke-width="1"/>
<text class="it" transform="translate(172.3,797.8) skewX(-4)" text-anchor="middle" font-size="20" fill="#000" stroke="#000" stroke-width="0.5">3</text>
<circle cx="236.7" cy="763.7" r="10.7" fill="#fff" stroke-width="1"/>
<text class="it" transform="translate(237.0,770.8) skewX(-4)" text-anchor="middle" font-size="20" fill="#000" stroke="#000" stroke-width="0.5">4</text>
<circle cx="288.8" cy="763.4" r="10.7" fill="#fff" stroke-width="1"/>
<text class="it" transform="translate(289.1,770.5) skewX(-4)" text-anchor="middle" font-size="20" fill="#000" stroke="#000" stroke-width="0.5">5</text>
<circle cx="331.6" cy="763.4" r="10.7" fill="#fff" stroke-width="1"/>
<text class="it" transform="translate(331.9,770.5) skewX(-4)" text-anchor="middle" font-size="20" fill="#000" stroke="#000" stroke-width="0.5">6</text>
<circle cx="372.5" cy="763.4" r="10.7" fill="#fff" stroke-width="1"/>
<text class="it" transform="translate(372.8,770.5) skewX(-4)" text-anchor="middle" font-size="20" fill="#000" stroke="#000" stroke-width="0.5">7</text>
<circle cx="412.5" cy="763.4" r="10.7" fill="#fff" stroke-width="1"/>
<text class="it" transform="translate(412.8,770.5) skewX(-4)" text-anchor="middle" font-size="20" fill="#000" stroke="#000" stroke-width="0.5">8</text>
<circle cx="460.5" cy="769.2" r="10.7" fill="#fff" stroke-width="1"/>
<text class="it" transform="translate(460.8,776.3) skewX(-4)" text-anchor="middle" font-size="20" fill="#000" stroke="#000" stroke-width="0.5">9</text>
</g>
<path d="M154,704.8 H236.7 L209.7,741.5" fill="none" stroke="#000" stroke-width="0.8"/>
<text transform="translate(156.0,700.9) skewX(-4) scale(0.97,1)" font-size="18.3" class="it" text-anchor="start" fill="#000" stroke="#000" stroke-width="0">Подпорка</text>
<g fill="none" stroke="#5a5a5a" stroke-width="1">
<path d="M85.5,734.4 V935 M82,735.2 H116 M82,935 H116" stroke="#666"/>
<path d="M116.4,935 V977 M479.7,943 V977 M116.4,972.5 H479.7"/>
</g>
<polygon points="85.5,735.5 87.7,744.5 83.3,744.5" fill="#000" stroke="none" stroke-width="0" />
<polygon points="85.5,934.5 83.3,925.5 87.7,925.5" fill="#000" stroke="none" stroke-width="0" />
<polygon points="117.0,972.5 126.0,970.3 126.0,974.7" fill="#000" stroke="none" stroke-width="0" />
<polygon points="479.2,972.5 470.2,974.7 470.2,970.3" fill="#000" stroke="none" stroke-width="0" />
<text transform="translate(83.0,850.0) rotate(-90) skewX(-4) scale(0.955,1)" font-size="18.7" class="it" text-anchor="start" fill="#000" stroke="#000" stroke-width="0.3">1130</text>
<text transform="translate(277.5,968.0) skewX(-4) scale(0.955,1)" font-size="18.7" class="it" text-anchor="start" fill="#000" stroke="#000" stroke-width="0.3">2050</text>
</svg></body></html>
